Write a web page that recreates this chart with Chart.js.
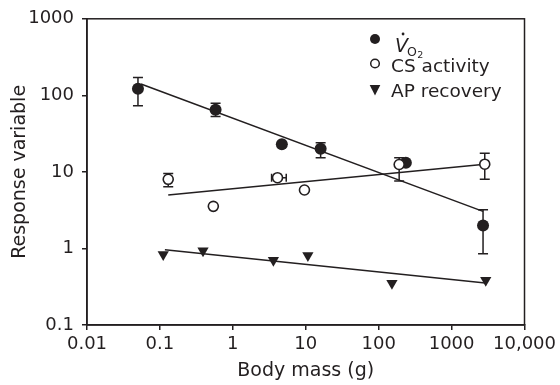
<!DOCTYPE html>
<html>
<head>
<meta charset="utf-8">
<script src="https://cdn.jsdelivr.net/npm/chart.js@4.4.1/dist/chart.umd.min.js"></script>
<style>
  html, body { margin: 0; padding: 0; background: #fff; }
  #wrap { width: 560px; height: 385px; }
</style>
</head>
<body>
<div id="wrap"><canvas id="c" width="560" height="385"></canvas></div>
<script>
// ---- data ----
const vo2Mass = [0.05, 0.58, 4.7, 16, 236, 2700];
const vo2Rate = [122, 65, 23, 20, 13.2, 2.0];
const vo2Lo   = [73, 53, null, 15.3, null, 0.85];
const vo2Hi   = [171, 79, null, 24, null, 3.2];

const csMass     = [0.13, 0.54, 4.1, 9.6, 191, 2850];
const csActivity = [8.0, 3.55, 8.4, 5.8, 12.5, 12.6];
const csLo       = [6.4, null, null, null, 7.6, 8.0];
const csHi       = [9.5, null, null, null, 15.3, 17.5];
const csMassLo   = [null, null, 3.4, null, null, null];
const csMassHi   = [null, null, 5.4, null, null, null];

const apMass     = [0.111, 0.39, 3.6, 10.7, 152, 2940];
const apRecovery = [0.835, 0.93, 0.70, 0.81, 0.35, 0.385];

const vo2FitMass = [0.055, 2700];
const vo2Fit     = [141, 3.05];
const csFitMass  = [0.13, 2850];
const csFit      = [5.0, 12.6];
const apFitMass  = [0.117, 2900];
const apFit      = [0.96, 0.355];

const xTickValues = [0.01, 0.1, 1, 10, 100, 1000, 10000];
const xTickLabels = ['0.01', '0.1', '1', '10', '100', '1000', '10,000'];
const yTickValues = [0.1, 1, 10, 100, 1000];
const yTickLabels = ['0.1', '1', '10', '100', '1000'];

const seriesLabels = ['V\u0307O2', 'CS activity', 'AP recovery'];
const xTitle = 'Body mass (g)';
const yTitle = 'Response variable';

// ---- styling ----
const INK = '#231f20';
const FONT = 'DejaVu Sans';

const pts = (xs, ys) => xs.map((x, i) => ({ x: x, y: ys[i] }));

const errorBarPlugin = {
  id: 'errorBars',
  beforeDatasetsDraw(chart) {
    const ctx = chart.ctx, xs = chart.scales.x, ys = chart.scales.y;
    const cap = 5;
    ctx.save();
    ctx.strokeStyle = INK;
    ctx.lineWidth = 1.5;
    const vert = (mass, lo, hi) => {
      mass.forEach((m, i) => {
        if (lo[i] == null) return;
        const px = xs.getPixelForValue(m);
        const pl = ys.getPixelForValue(lo[i]);
        const ph = ys.getPixelForValue(hi[i]);
        ctx.beginPath();
        ctx.moveTo(px, pl); ctx.lineTo(px, ph);
        ctx.moveTo(px - cap, pl); ctx.lineTo(px + cap, pl);
        ctx.moveTo(px - cap, ph); ctx.lineTo(px + cap, ph);
        ctx.stroke();
      });
    };
    const horiz = (vals, lo, hi) => {
      vals.forEach((v, i) => {
        if (lo[i] == null) return;
        const py = ys.getPixelForValue(v);
        const pl = xs.getPixelForValue(lo[i]);
        const ph = xs.getPixelForValue(hi[i]);
        ctx.beginPath();
        ctx.moveTo(pl, py); ctx.lineTo(ph, py);
        ctx.moveTo(pl, py - 4); ctx.lineTo(pl, py + 4);
        ctx.moveTo(ph, py - 4); ctx.lineTo(ph, py + 4);
        ctx.stroke();
      });
    };
    vert(vo2Mass, vo2Lo, vo2Hi);
    vert(csMass, csLo, csHi);
    horiz(csActivity, csMassLo, csMassHi);
    ctx.restore();
  }
};

const framePlugin = {
  id: 'frame',
  afterDraw(chart) {
    const { ctx, chartArea: a } = chart;
    ctx.save();
    ctx.strokeStyle = INK;
    ctx.lineWidth = 1.5;
    ctx.strokeRect(a.left, a.top, a.right - a.left, a.bottom - a.top);
    ctx.restore();
  }
};

const legendPlugin = {
  id: 'customLegend',
  afterDraw(chart) {
    const ctx = chart.ctx;
    const mx = 375, tx = 391;
    const rows = [39, 63.5, 90];
    ctx.save();
    ctx.fillStyle = INK;
    ctx.strokeStyle = INK;
    // filled circle
    ctx.beginPath(); ctx.arc(mx, rows[0], 5, 0, Math.PI * 2); ctx.fill();
    // open circle
    ctx.lineWidth = 1.5;
    ctx.beginPath(); ctx.arc(mx, rows[1], 4.3, 0, Math.PI * 2);
    ctx.fillStyle = '#fff'; ctx.fill(); ctx.stroke();
    ctx.fillStyle = INK;
    // down triangle
    ctx.beginPath();
    ctx.moveTo(mx - 5.3, rows[2] - 5);
    ctx.lineTo(mx + 5.3, rows[2] - 5);
    ctx.lineTo(mx, rows[2] + 5.5);
    ctx.closePath(); ctx.fill();

    ctx.textBaseline = 'alphabetic';
    ctx.textAlign = 'left';
    // V-dot O2
    ctx.font = 'italic 19px "' + FONT + '"';
    const vx = tx + 4;
    ctx.fillText('V', vx, 51.5);
    const vw = ctx.measureText('V').width;
    ctx.beginPath(); ctx.arc(vx + vw * 0.62, 34, 1.4, 0, Math.PI * 2); ctx.fill();
    ctx.font = '12.5px "' + FONT + '"';
    const ox = vx + vw - 1;
    ctx.fillText('O', ox, 55.5);
    const ow = ctx.measureText('O').width;
    ctx.font = '9.5px "' + FONT + '"';
    ctx.fillText('2', ox + ow + 0.5, 57.5);
    // other labels
    ctx.font = '18.5px "' + FONT + '"';
    ctx.fillText(seriesLabels[1], tx, 71.5);
    ctx.fillText(seriesLabels[2], tx, 96.5);
    ctx.restore();
  }
};

Chart.defaults.font.family = FONT;
Chart.defaults.font.size = 18;
Chart.defaults.color = INK;

new Chart(document.getElementById('c'), {
  type: 'scatter',
  data: {
    datasets: [
      {
        label: seriesLabels[1],
        data: pts(csMass, csActivity),
        pointStyle: 'circle', pointRadius: 5, pointHoverRadius: 5,
        backgroundColor: '#fff', borderColor: INK, borderWidth: 1.6,
        order: 1
      },
      {
        label: seriesLabels[0],
        data: pts(vo2Mass, vo2Rate),
        pointStyle: 'circle', pointRadius: 6, pointHoverRadius: 6,
        backgroundColor: INK, borderColor: INK, borderWidth: 0,
        order: 2
      },
      {
        label: seriesLabels[2],
        data: pts(apMass, apRecovery),
        pointStyle: 'triangle', pointRadius: 6.5, pointHoverRadius: 6.5,
        rotation: 180,
        backgroundColor: INK, borderColor: INK, borderWidth: 0,
        order: 3
      },
      {
        label: 'VO2 fit', type: 'line', data: pts(vo2FitMass, vo2Fit),
        borderColor: INK, borderWidth: 1.5, pointRadius: 0, fill: false, order: 5
      },
      {
        label: 'CS fit', type: 'line', data: pts(csFitMass, csFit),
        borderColor: INK, borderWidth: 1.5, pointRadius: 0, fill: false, order: 5
      },
      {
        label: 'AP fit', type: 'line', data: pts(apFitMass, apFit),
        borderColor: INK, borderWidth: 1.5, pointRadius: 0, fill: false, order: 5
      }
    ]
  },
  options: {
    responsive: false,
    animation: false,
    devicePixelRatio: 1,
    layout: { padding: { left: 0, top: 17, right: 34, bottom: 0 } },
    plugins: {
      legend: { display: false },
      tooltip: { enabled: false }
    },
    scales: {
      x: {
        type: 'logarithmic',
        min: 0.01, max: 10000,
        afterBuildTicks: s => { s.ticks = xTickValues.map(v => ({ value: v })); },
        afterFit: s => { s.height = 60; },
        ticks: {
          autoSkip: false, maxRotation: 0, padding: 4,
          callback: (v) => { const i = xTickValues.indexOf(v); return i >= 0 ? xTickLabels[i] : ''; }
        },
        grid: { drawOnChartArea: false, drawTicks: true, tickLength: 5, color: INK, lineWidth: 1.5 },
        border: { display: true, color: INK, width: 1.5 },
        title: { display: true, text: xTitle, font: { size: 19 }, padding: { top: 0, bottom: 3 } }
      },
      y: {
        type: 'logarithmic',
        min: 0.1, max: 1000,
        afterBuildTicks: s => { s.ticks = yTickValues.map(v => ({ value: v })); },
        afterFit: s => { s.width = 87; },
        ticks: {
          autoSkip: false, padding: 8,
          callback: (v) => { const i = yTickValues.indexOf(v); return i >= 0 ? yTickLabels[i] : ''; }
        },
        grid: { drawOnChartArea: false, drawTicks: true, tickLength: 5, color: INK, lineWidth: 1.5 },
        border: { display: true, color: INK, width: 1.5 },
        title: { display: true, text: yTitle, font: { size: 19 }, padding: { top: 9, bottom: 0 } }
      }
    }
  },
  plugins: [errorBarPlugin, framePlugin, legendPlugin]
});
</script>
</body>
</html>
